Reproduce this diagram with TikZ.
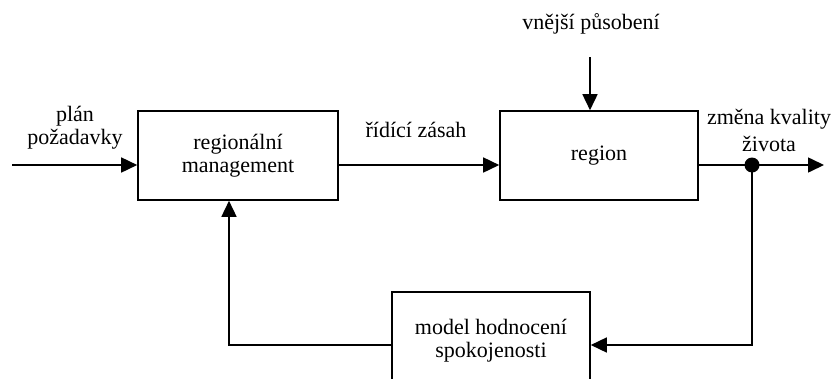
\documentclass[tikz,border=0pt]{standalone}
\usepackage{fontspec}
\setmainfont{Liberation Serif}
\usetikzlibrary{arrows.meta}
\begin{document}
\begin{tikzpicture}[x=1pt,y=-1pt,
  every node/.style={font=\fontsize{22}{23}\selectfont, align=center, inner sep=0pt},
  block/.style={draw, line width=1.6pt, minimum width=#1, minimum height=89pt},
  flow/.style={line width=1.6pt, -{Triangle[length=16pt,width=15pt]}},
  wire/.style={line width=1.6pt}]
  \useasboundingbox (0,0) rectangle (837,378);
  \clip (0,0) rectangle (837,378);

  % blocks
  \node[block=200pt] (mgmt) at (238,155.5) {regionální\\management};
  \node[block=198pt] (reg) at (599,155.5) {region};
  \node[block=198pt, minimum height=98pt] (model) at (491,341) {model hodnocení\\spokojenosti};

  % labels
  \node (plan) at (75,128) {plán\\požadavky};
  \node (ctrl) at (416,130) {řídící zásah};
  \node (ext) at (591,24) {vnější působení};
  \node[font=\fontsize{22}{27}\selectfont] (qual) at (769,130) {změna kvality\\života};

  % signal points
  \coordinate (in) at (12,165);
  \coordinate (tap) at (752,165);
  \coordinate (out) at (824,165);
  \coordinate (extstart) at (590,57);
  \coordinate (fb) at (229,345);

  % forward path
  \draw[flow] (in) -- (in -| mgmt.west);
  \draw[flow] (mgmt.east |- in) -- (reg.west |- in);
  \draw[flow] (extstart) -- (extstart |- reg.north);
  \draw[wire] (reg.east |- tap) -- (tap);
  \draw[flow] (tap) -- (out);

  % feedback path
  \draw[flow] (tap) -- (tap |- fb) -- (model.east |- fb);
  \draw[flow] (model.west |- fb) -- (fb) -- (fb |- mgmt.south);

  \fill (tap) circle (7.5pt);
\end{tikzpicture}
\end{document}
